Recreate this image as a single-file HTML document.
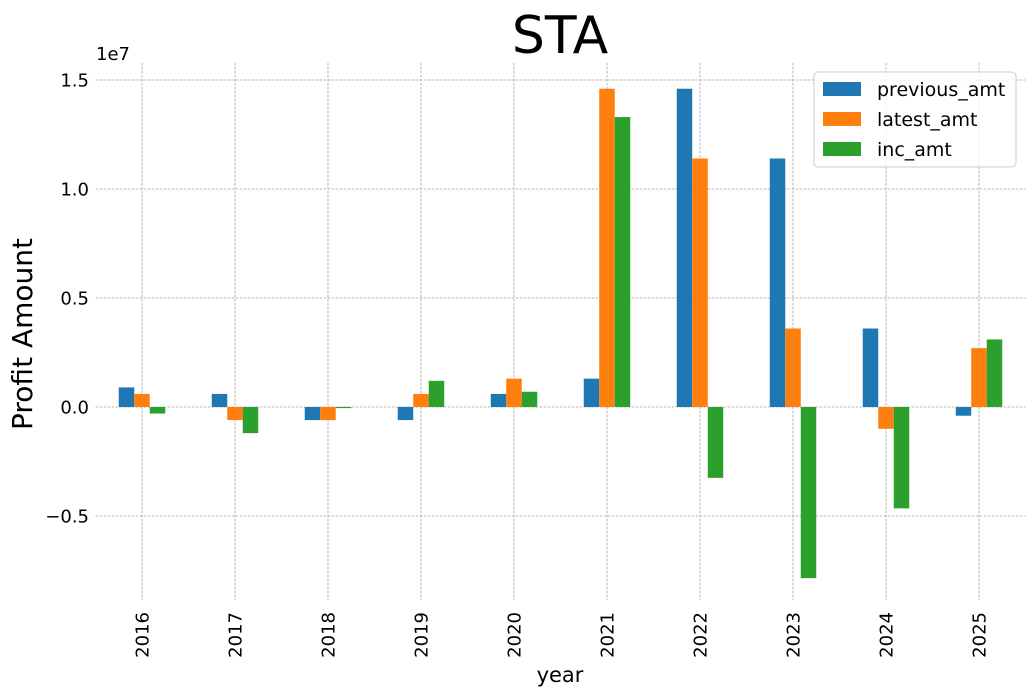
<!DOCTYPE html>
<html><head><meta charset="utf-8"><style>
body{margin:0;background:#fff;font-family:"Liberation Sans","DejaVu Sans",sans-serif;}
svg text{font-family:"DejaVu Sans","Liberation Sans",sans-serif;}
</style></head><body>
<svg id="chart" width="1035" height="695" xmlns="http://www.w3.org/2000/svg"></svg>
<script>
const categories=["2016","2017","2018","2019","2020","2021","2022","2023","2024","2025"];
const previousAmt=[0.9e6,0.6e6,-0.6e6,-0.6e6,0.6e6,1.3e6,14.6e6,11.4e6,3.6e6,-0.4e6];
const latestAmt=[0.6e6,-0.6e6,-0.6e6,0.6e6,1.3e6,14.6e6,11.4e6,3.6e6,-1.0e6,2.7e6];
const incAmt=[-0.3e6,-1.2e6,-0.05e6,1.2e6,0.7e6,13.3e6,-3.25e6,-7.85e6,-4.65e6,3.1e6];
const yTicks=[-0.5e7,0,0.5e7,1.0e7,1.5e7];
const yTickLabels=["\u22120.5","0.0","0.5","1.0","1.5"];
const seriesNames=["previous_amt","latest_amt","inc_amt"];
const colors=["#1f77b4","#ff7f0e","#2ca02c"];

const svg=document.getElementById('chart');
const NS="http://www.w3.org/2000/svg";
const L=95.5,R=1025.5,T=63,B=600;
const y=v=>407-(v/5e6)*109;
const step=(R-L)/categories.length;
const x=i=>L+step*(i+0.5);
function mk(tag,attrs,text){const e=document.createElementNS(NS,tag);for(const k in attrs)e.setAttribute(k,attrs[k]);if(text!==undefined)e.textContent=text;svg.appendChild(e);return e;}

categories.forEach((c,i)=>{
 const g=mk('line',{x1:x(i),x2:x(i),y1:T,y2:B,stroke:'#a0a0a0','stroke-width':0.8,'stroke-dasharray':'2.5,1.5'});
 
 
});
yTicks.forEach((t,i)=>{
 const g=mk('line',{x1:L,x2:R,y1:y(t),y2:y(t),stroke:'#a0a0a0','stroke-width':0.8,'stroke-dasharray':'2.5,1.5'});
 
 
 const lb=mk('text',{x:89,y:y(t)+6.5,'text-anchor':'end','font-size':18},yTickLabels[i]);
 
 
});
const bw=step/6;
[previousAmt,latestAmt,incAmt].forEach((arr,s)=>{
 arr.forEach((v,i)=>{
  const bx=x(i)-1.5*bw+s*bw;
  const r=mk('rect',{x:bx,y:Math.min(y(v),y(0)),width:bw,height:Math.abs(y(v)-y(0)),fill:colors[s]});
  
  
 });
});
categories.forEach((c,i)=>{
 const t=mk('text',{x:0,y:0,'text-anchor':'end','font-size':18,transform:`translate(${x(i)+6.5},${612}) rotate(-90)`},c);
 
 
});
let e;
e=mk('text',{x:560,y:682,'text-anchor':'middle','font-size':21},'year');

e=mk('text',{x:0,y:0,'text-anchor':'middle','font-size':28,transform:'translate(32,334) rotate(-90)'},'Profit Amount');

e=mk('text',{x:560,y:53,'text-anchor':'middle','font-size':52},'STA');

e=mk('text',{x:96,y:60,'font-size':18},'1e7');

e=mk('rect',{x:814,y:72,width:202,height:95,fill:'#fff','fill-opacity':0.8,stroke:'#ccc',rx:4});

seriesNames.forEach((n,s)=>{
 const ly=89+s*30;
 const sw=mk('rect',{x:823,y:ly-7,width:38,height:14,fill:colors[s]});
 
 
 const lt=mk('text',{x:877,y:ly+7,'font-size':19},n);
 
 
});
</script>
</body></html>
